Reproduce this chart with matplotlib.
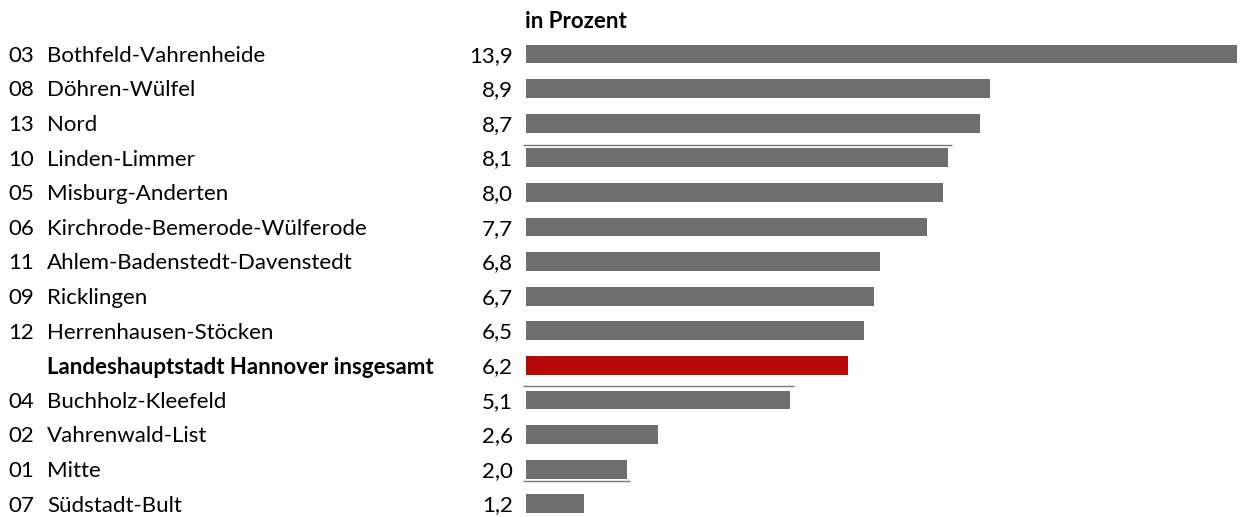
import matplotlib
matplotlib.use("Agg")
import matplotlib.pyplot as plt
from matplotlib.transforms import blended_transform_factory

codes = ["03", "08", "13", "10", "05", "06", "11", "09", "12", "", "04", "02", "01", "07"]
names = [
    "Bothfeld-Vahrenheide",
    "Döhren-Wülfel",
    "Nord",
    "Linden-Limmer",
    "Misburg-Anderten",
    "Kirchrode-Bemerode-Wülferode",
    "Ahlem-Badenstedt-Davenstedt",
    "Ricklingen",
    "Herrenhausen-Stöcken",
    "Landeshauptstadt Hannover insgesamt",
    "Buchholz-Kleefeld",
    "Vahrenwald-List",
    "Mitte",
    "Südstadt-Bult",
]
values = [13.9, 8.9, 8.7, 8.1, 8.0, 7.7, 6.8, 6.7, 6.5, 6.2, 5.1, 2.6, 2.0, 1.2]
value_labels = ["13,9", "8,9", "8,7", "8,1", "8,0", "7,7", "6,8", "6,7", "6,5", "6,2", "5,1", "2,6", "2,0", "1,2"]
unit_label = "in Prozent"
total_label = "Landeshauptstadt Hannover insgesamt"

W, H = 1252, 517
plt.rcParams['font.family'] = ['Lato', 'DejaVu Sans']

fig = plt.figure(figsize=(W / 100, H / 100), dpi=100)
left_px, right_px = 526, 1237
top_px, bot_px = 36, 517
ax = fig.add_axes([left_px / W, 1 - bot_px / H, (right_px - left_px) / W, (bot_px - top_px) / H])

pitch = 34.6
row0 = 54
px_per_unit = 52.75
xmin = (left_px - 521) / px_per_unit
xmax = (right_px - 521) / px_per_unit
ax.set_xlim(xmin, xmax)
ax.set_ylim((bot_px - row0) / pitch, -(row0 - top_px) / pitch)
ax.axis('off')

ypos = list(range(len(names)))
colors = ['#B50A07' if n == total_label else '#6E6E6E' for n in names]
ax.barh(ypos, values, height=0.54, color=colors, linewidth=0)

# thin separator lines
seps = [(3, -0.38), (10, -0.40), (12, 0.35)]
for idx, off in seps:
    ax.plot([0.04, values[idx] + 0.07], [idx + off, idx + off], color='#7A7A7A', lw=1.0,
            clip_on=False, solid_capstyle='butt')

tr = blended_transform_factory(fig.transFigure, ax.transData)
fs = 16
for i, (c, n, v) in enumerate(zip(codes, names, value_labels)):
    yy = i + 0.05
    bold = n == total_label
    if c:
        ax.text(8 / W, yy, c, transform=tr, ha='left', va='center', fontsize=fs)
    ax.text(47 / W, yy, n, transform=tr, ha='left', va='center', fontsize=fs,
            fontweight='bold' if bold else 'normal')
    ax.text(513 / W, yy, v, transform=tr, ha='right', va='center', fontsize=fs)

fig.text(525 / W, 1 - 22 / H, unit_label, ha='left', va='center', fontsize=fs, fontweight='bold')

fig.savefig("out.png", dpi=100)
